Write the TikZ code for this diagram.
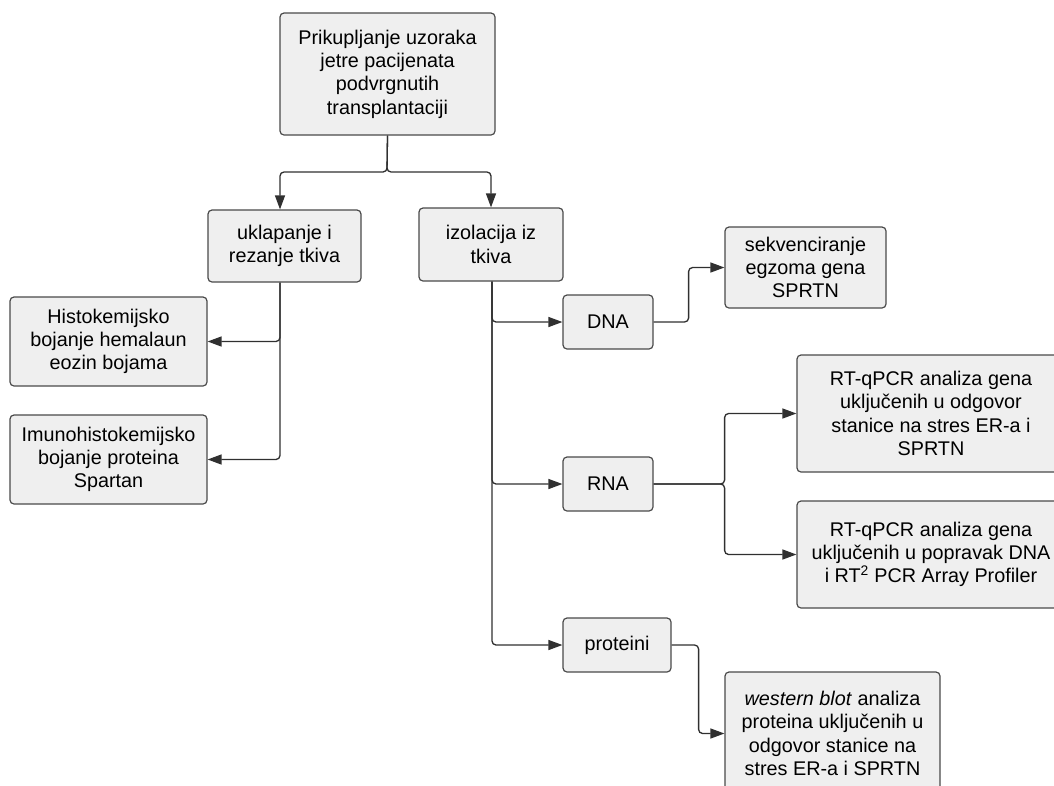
\documentclass[tikz,border=0pt]{standalone}
\usepackage{fontspec}
\setmainfont{Liberation Sans}
\usetikzlibrary{arrows.meta}
\definecolor{boxfill}{HTML}{EFEFEF}
\definecolor{boxline}{HTML}{4A4A4A}
\definecolor{conline}{HTML}{303030}
\tikzset{
  box/.style={draw=boxline, fill=boxfill, line width=1.2pt, rounded corners=4pt,
    align=center, inner sep=0pt, font=\fontsize{19.8}{23.3}\selectfont},
  conn/.style={draw=conline, line width=1.3pt, rounded corners=4pt,
    -{Triangle[length=14pt,width=10pt]}}
}
\begin{document}
\begin{tikzpicture}[x=1pt,y=-1pt]
\useasboundingbox (0,0) rectangle (1054,785);
\clip (0,0) rectangle (1054,785);
\fill[white] (0,0) rectangle (1054,785);
\node[box, minimum width=215pt, minimum height=122pt] (top) at (387.5,74) {Prikupljanje uzoraka\\jetre pacijenata\\podvrgnutih\\transplantaciji};
\node[box, minimum width=153pt, minimum height=72pt] (ukl) at (284.5,246) {uklapanje i\\rezanje tkiva};
\node[box, minimum width=144pt, minimum height=73pt] (izo) at (491,244.5) {izolacija iz\\tkiva};
\node[box, minimum width=197pt, minimum height=89pt] (histo) at (108.5,341.5) {Histokemijsko\\bojanje hemalaun\\eozin bojama};
\node[box, minimum width=197pt, minimum height=89pt] (imuno) at (108.5,459.5) {Imunohistokemijsko\\bojanje proteina\\Spartan};
\node[box, minimum width=90pt, minimum height=54pt] (dna) at (608,322) {DNA};
\node[box, minimum width=161pt, minimum height=81pt] (sekv) at (805.5,267.5) {sekvenciranje\\egzoma gena\\SPRTN};
\node[box, minimum width=90pt, minimum height=54pt] (rna) at (608,484) {RNA};
\node[box, minimum width=268pt, minimum height=117pt] (rt1) at (931,413.5) {RT-qPCR analiza gena\\uključenih u odgovor\\stanice na stres ER-a i\\SPRTN};
\node[box, minimum width=268pt, minimum height=107pt] (rt2) at (931,554.5) {RT-qPCR analiza gena\\uključenih u popravak DNA\\i RT\textsuperscript{2} PCR Array Profiler};
\node[box, minimum width=108pt, minimum height=54pt] (prot) at (617,645) {proteini};
\node[box, minimum width=215pt, minimum height=123pt] (wb) at (832.5,733.5) {\textit{western blot} analiza\\proteina uključenih u\\odgovor stanice na\\stres ER-a i SPRTN};
\coordinate (b1) at (387,172);
\draw[conn] (top.south) -- (b1) -| ([xshift=-4.5pt]ukl.north);
\draw[conn] (top.south) -- (b1) -| (izo.north);
\draw[conn] ([xshift=-4.5pt]ukl.south) |- (histo.east);
\draw[conn] ([xshift=-4.5pt]ukl.south) |- (imuno.east);
\draw[conn] ([xshift=1pt]izo.south) |- (dna.west);
\draw[conn] ([xshift=1pt]izo.south) |- (rna.west);
\draw[conn] ([xshift=1pt]izo.south) |- (prot.west);
\draw[conn] (dna.east) -- ++(35,0) |- (sekv.west);
\draw[conn] (rna.east) -- ++(71,0) |- (rt1.west);
\draw[conn] (rna.east) -- ++(71,0) |- (rt2.west);
\draw[conn] (prot.east) -- ++(27,0) |- (wb.west);
\end{tikzpicture}
\end{document}
